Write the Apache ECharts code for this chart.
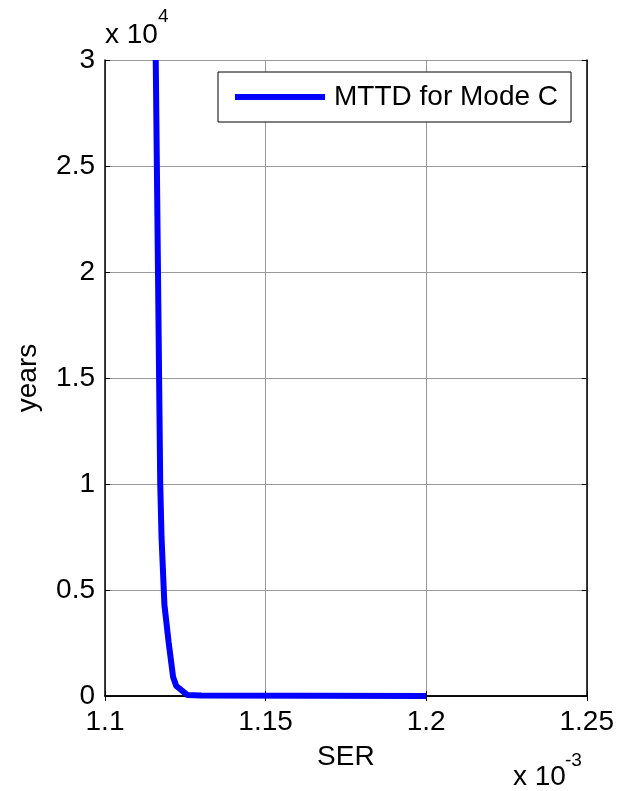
<!DOCTYPE html>
<html>
<head>
<meta charset="utf-8">
<script src="https://cdn.jsdelivr.net/npm/echarts@6/dist/echarts.min.js"></script>
<style>
  html, body { margin: 0; padding: 0; background: #fff; }
  #main { width: 617px; height: 791px; }
</style>
</head>
<body>
<div id="main"></div>
<script>
// SER values (x 10^-3) and MTTD in years
var serValues = [1.1158, 1.1172, 1.1176, 1.1185, 1.1198, 1.1212, 1.1222, 1.1256, 1.13, 1.2];
var mttdYears = [30000, 10000, 7500, 4300, 2550, 900, 470, 50, 20, 0];
var seriesName = 'MTTD for Mode C';

var xTicks = { min: 1.1, max: 1.25, step: 0.05 };
var yTicks = { min: 0, max: 30000, step: 5000 };

var fontFam = '"Liberation Sans", Arial, sans-serif';
var lineData = [];
for (var i = 0; i < serValues.length; i++) {
    lineData.push([serValues[i], mttdYears[i]]);
}

var chart = echarts.init(document.getElementById('main'));
var option = {
    backgroundColor: '#fff',
    animation: false,
    grid: { left: 105, right: 30, top: 60, bottom: 95 },
    legend: {
        data: [seriesName],
        left: 218,
        top: 72,
        padding: [11, 13, 11, 17],
        borderColor: '#000',
        borderWidth: 1,
        backgroundColor: '#fff',
        icon: 'rect',
        itemWidth: 90,
        itemHeight: 6,
        textStyle: { fontFamily: fontFam, fontSize: 28, color: '#000', padding: [0, 0, 0, 4] }
    },
    xAxis: [
        {
            type: 'value', min: xTicks.min, max: xTicks.max, interval: xTicks.step,
            name: 'SER', nameLocation: 'middle', nameGap: 47,
            nameTextStyle: { fontFamily: fontFam, fontSize: 28, color: '#000' },
            axisLine: { show: true, onZero: false, lineStyle: { color: '#000', width: 1.5 } },
            axisTick: { inside: true, length: 5, lineStyle: { color: '#000' } },
            axisLabel: { fontFamily: fontFam, fontSize: 28, color: '#000', margin: 12,
                formatter: function (v) { return String(Math.round(v * 100) / 100); } },
            splitLine: { show: true, lineStyle: { color: '#999', width: 1 } }
        },
        {
            type: 'value', position: 'top', min: xTicks.min, max: xTicks.max, interval: xTicks.step,
            axisLine: { show: true, lineStyle: { color: '#000', width: 1.5 } },
            axisTick: { inside: true, length: 5, lineStyle: { color: '#000' } },
            axisLabel: { show: false },
            splitLine: { show: false }
        }
    ],
    yAxis: [
        {
            type: 'value', min: yTicks.min, max: yTicks.max, interval: yTicks.step,
            name: 'years', nameLocation: 'middle', nameGap: 63, nameRotate: 90,
            nameTextStyle: { fontFamily: fontFam, fontSize: 28, color: '#000' },
            axisLine: { show: true, lineStyle: { color: '#000', width: 1.5 } },
            axisTick: { inside: true, length: 5, lineStyle: { color: '#000' } },
            axisLabel: { fontFamily: fontFam, fontSize: 28, color: '#000', margin: 10,
                formatter: function (v) { return String(v / 10000); } },
            splitLine: { show: true, lineStyle: { color: '#999', width: 1 } }
        },
        {
            type: 'value', position: 'right', min: yTicks.min, max: yTicks.max, interval: yTicks.step,
            axisLine: { show: true, lineStyle: { color: '#000', width: 1.5 } },
            axisTick: { inside: true, length: 5, lineStyle: { color: '#000' } },
            axisLabel: { show: false },
            splitLine: { show: false }
        }
    ],
    series: [
        {
            name: seriesName,
            type: 'line',
            data: lineData,
            symbol: 'none',
            clip: true,
            lineStyle: { color: '#0000ff', width: 6 },
            itemStyle: { color: '#0000ff' }
        }
    ],
    graphic: [
        { type: 'text', style: { x: 105, y: 35, text: 'x 10', fontFamily: fontFam, fontSize: 28, fill: '#000', verticalAlign: 'middle' } },
        { type: 'text', style: { x: 158, y: 17, text: '4', fontFamily: fontFam, fontSize: 19, fill: '#000', verticalAlign: 'middle' } },
        { type: 'text', style: { x: 513, y: 777, text: 'x 10', fontFamily: fontFam, fontSize: 28, fill: '#000', verticalAlign: 'middle' } },
        { type: 'text', style: { x: 565, y: 761, text: '-3', fontFamily: fontFam, fontSize: 19, fill: '#000', verticalAlign: 'middle' } }
    ]
};
chart.setOption(option);
window.onresize = chart.resize;
</script>
</body>
</html>
